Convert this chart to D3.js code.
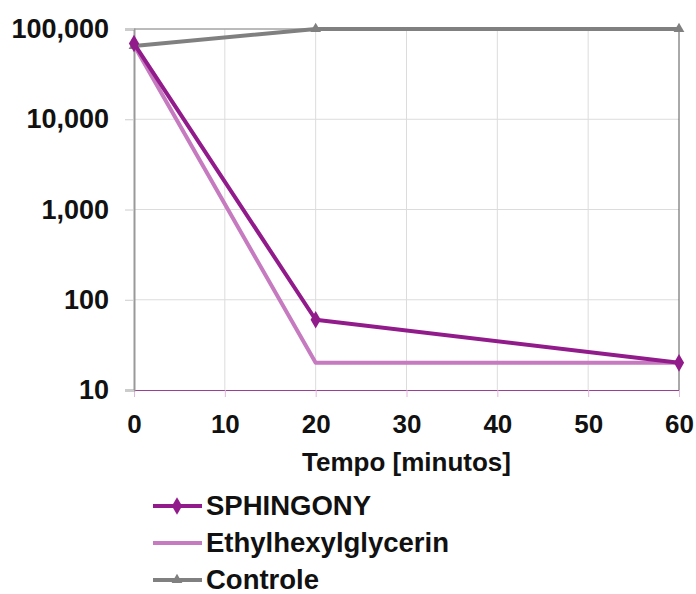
<!DOCTYPE html>
<html>
<head>
<meta charset="utf-8">
<script src="https://cdn.jsdelivr.net/npm/d3@7"></script>
<style>
  body { margin: 0; background: #fff; }
  text { font-family: "Liberation Sans", Arial, sans-serif; font-weight: bold; fill: #111; }
</style>
</head>
<body>
<svg id="chart" width="696" height="594"></svg>
<script>
// data
const minutes = [0, 20, 60];
const sphingony = [69000, 60, 20];
const ethylhexyl = [66000, 20, 20];
const controle = [65000, 100000, 100000];
const xTicks = [0, 10, 20, 30, 40, 50, 60];
const yTicks = [10, 100, 1000, 10000, 100000];

const series = [
  { name: "SPHINGONY", values: sphingony, color: "#921B8C", marker: "diamond" },
  { name: "Ethylhexylglycerin", values: ethylhexyl, color: "#C67ABF", marker: null },
  { name: "Controle", values: controle, color: "#808080", marker: "triangle" }
];

const svg = d3.select("#chart");
const margin = { left: 134, right: 17, top: 29, bottom: 204 };
const W = 696, H = 594;
const font = "'Liberation Sans', Arial, sans-serif";

const x = d3.scaleLinear().domain([0, 60]).range([margin.left, W - margin.right]);
const y = d3.scaleLog().domain([10, 100000]).range([H - margin.bottom, margin.top]);

// gridlines
svg.append("g").selectAll("line").data(yTicks.slice(1)).join("line")
  .attr("x1", x(0)).attr("x2", x(60))
  .attr("y1", d => y(d)).attr("y2", d => y(d))
  .attr("stroke", "#dcdcdc").attr("stroke-width", 1);
svg.append("g").selectAll("line").data(xTicks.slice(1, -1)).join("line")
  .attr("x1", d => x(d)).attr("x2", d => x(d))
  .attr("y1", y(100000)).attr("y2", y(10))
  .attr("stroke", "#dcdcdc").attr("stroke-width", 1);

// frame
svg.append("line").attr("x1", x(60)).attr("x2", x(60)).attr("y1", y(100000)).attr("y2", y(10))
  .attr("stroke", "#555").attr("stroke-width", 1);
svg.append("line").attr("x1", x(0)).attr("x2", x(60)).attr("y1", y(100000)).attr("y2", y(100000))
  .attr("stroke", "#888").attr("stroke-width", 1);

// x axis
const xAxis = svg.append("g").attr("transform", `translate(0,${y(10)})`)
  .call(d3.axisBottom(x).tickValues(xTicks).tickSize(7).tickPadding(18).tickFormat(d3.format("d")));
xAxis.select(".domain").attr("stroke", "#9b3f95").attr("stroke-width", 1);
xAxis.selectAll(".tick line").attr("stroke", "#e0b8dc");
xAxis.selectAll("text").attr("font-size", 26).attr("fill", "#111")
  .style("font-family", font).style("font-weight", "bold");

// y axis
const yAxis = svg.append("g").attr("transform", `translate(${x(0)},0)`)
  .call(d3.axisLeft(y).tickValues(yTicks).tickSize(9).tickPadding(16).tickFormat(d3.format(",")));
yAxis.select(".domain").attr("stroke", "#999").attr("stroke-width", 2);
yAxis.selectAll(".tick line").attr("stroke", "#ccc");
yAxis.selectAll("text").attr("font-size", 27).attr("fill", "#111")
  .style("font-family", font).style("font-weight", "bold");

// axis title
svg.append("text").attr("x", (x(0) + x(60)) / 2).attr("y", 471)
  .attr("text-anchor", "middle").attr("font-size", 26).text("Tempo [minutos]");

// lines
const line = d3.line().x(d => x(d[0])).y(d => y(d[1]));
const diamond = d3.symbol().type(d3.symbolDiamond).size(90);
const triangle = d3.symbol().type(d3.symbolTriangle).size(50);

series.slice().reverse().forEach(s => {
  const pts = minutes.map((m, i) => [m, s.values[i]]);
  svg.append("path").datum(pts).attr("d", line)
    .attr("fill", "none").attr("stroke", s.color).attr("stroke-width", 4)
    .attr("stroke-linejoin", "round");
  if (s.marker) {
    svg.append("g").selectAll("path").data(pts).join("path")
      .attr("transform", d => `translate(${x(d[0])},${y(d[1])})`)
      .attr("d", s.marker === "diamond" ? diamond : triangle)
      .attr("fill", s.color);
  }
});

// legend
const legend = svg.append("g").attr("transform", "translate(153,506)");
series.forEach((s, i) => {
  const g = legend.append("g").attr("transform", `translate(0,${i * 37})`);
  g.append("line").attr("x1", 0).attr("x2", 49).attr("y1", 0).attr("y2", 0)
    .attr("stroke", s.color).attr("stroke-width", 4);
  if (s.marker) {
    g.append("path").attr("transform", "translate(24,0)")
      .attr("d", s.marker === "diamond" ? diamond : triangle).attr("fill", s.color);
  }
  g.append("text").attr("x", 53).attr("y", 9).attr("font-size", 27.5).text(s.name);
});
</script>
</body>
</html>
